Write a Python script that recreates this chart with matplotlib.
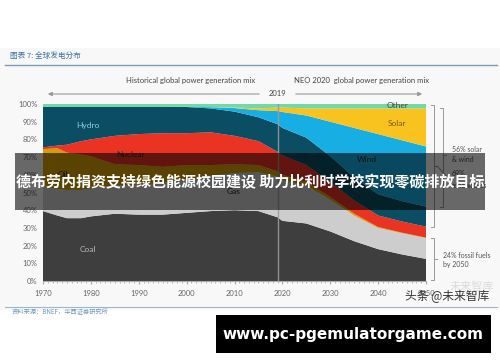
import matplotlib
matplotlib.use("Agg")
import matplotlib.pyplot as plt
from matplotlib.patches import Rectangle, FancyArrowPatch
from matplotlib.lines import Line2D

plt.rcParams['font.family'] = ['Lato', 'Noto Sans CJK SC', 'DejaVu Sans']

# --------------------------------------------------------------
# Data: global power generation mix, % share
# --------------------------------------------------------------
years = [1970, 1973, 1975, 1978, 1980, 1985, 1990, 1995, 2000, 2005,
         2010, 2015, 2019, 2020, 2025, 2030, 2035, 2040, 2045, 2050]
coal = [39.5, 37, 35.5, 35.5, 36.5, 38, 37.5, 37.5, 38.5, 39.5,
        40, 39.5, 36, 34, 32.5, 28, 22.5, 18, 15, 12.5]
gas = [14, 15, 16, 16, 16, 16, 17, 18, 19, 20,
       21, 22, 23, 23, 21.5, 18, 14.5, 12, 12, 11.8]
oil = [21, 23, 21, 20, 18, 12, 11, 9, 8, 6,
       5, 4, 3, 3, 2, 1.5, 1, 0.5, 0.3, 0.2]
nuclear = [1, 1.5, 4.5, 7.5, 9.5, 16, 17.5, 19, 18, 18.5,
           16, 13.5, 11, 11, 9.5, 8.5, 7.5, 6.5, 6.3, 6.2]
hydro = [23, 22, 21.5, 19.5, 18.5, 16.5, 15.5, 15, 14.8, 13.5,
         13.7, 13.5, 15.6, 15.5, 15.5, 14.5, 13, 12, 11.5, 11.3]
wind = [0, 0, 0, 0, 0, 0, 0, 0, 0.1, 0.7,
        2, 4, 7.4, 9, 12.5, 19.5, 28, 34, 34.4, 34]
solar = [0, 0, 0, 0, 0, 0, 0, 0, 0, 0,
         0.3, 1, 2, 2.5, 4, 7.5, 11, 14.5, 18, 21.5]
other = [1.5, 1.5, 1.5, 1.5, 1.5, 1.5, 1.5, 1.5, 1.6, 1.8,
         2, 2.5, 2, 2, 2.5, 2.5, 2.5, 2.5, 2.5, 2.5]

colors = ['#3e3e3e', '#cdcdcd', '#d69e00', '#ea3323',
          '#0b4d63', '#17aee3', '#f9c31f', '#72d9a6']

y_ticks = [0, 10, 20, 30, 40, 50, 60, 70, 80, 90, 100]
x_ticks = [1970, 1980, 1990, 2000, 2010, 2020, 2030, 2040, 2050]

W, H = 500, 362
def fx(px):
    return px / W
def fy(py):
    return 1 - py / H

fig = plt.figure(figsize=(5, 3.62), dpi=100)
fig.patch.set_facecolor('white')
# light page background of the report screenshot
fig.add_artist(Rectangle((0, fy(310)), 1, fy(48) - fy(310), transform=fig.transFigure,
                         facecolor='#f8f8f8', edgecolor='none', zorder=-10))

ax = fig.add_axes([fx(43), fy(281), (426 - 43) / W, (281 - 104) / H])
ax.set_facecolor('none')
ax.stackplot(years, coal, gas, oil, nuclear, hydro, wind, solar, other,
             colors=colors, linewidth=0)
ax.set_xlim(1970, 2050)
ax.set_ylim(0, 100)
ax.set_yticks(y_ticks)
ax.set_yticklabels([f"{v}%" for v in y_ticks])
ax.set_xticks(x_ticks)
ax.set_xticks(range(1970, 2051), minor=True)
for s in ['top', 'right', 'left']:
    ax.spines[s].set_visible(False)
ax.spines['bottom'].set_color('#aaaaaa')
ax.tick_params(axis='y', length=0, labelsize=5.5, labelcolor='#666666', pad=4)
ax.tick_params(axis='x', which='major', length=2.5, color='#aaaaaa',
               labelsize=5.5, labelcolor='#666666', pad=4)
ax.tick_params(axis='x', which='minor', length=1.5, color='#aaaaaa')

# 2019 divider
ax.axvline(2019, color='#9a9a9a', lw=1, alpha=0.9)

# in-chart labels
lab = dict(fontsize=6, ha='center', va='center')
ax.text(1979.4, 88, "Hydro", color='#8fd0e8', **lab)
ax.text(1988.3, 71.6, "Nuclear", color='#2a2a2a', **lab)
ax.text(1974.2, 60.2, "Oil", color='#2a2a2a', **lab)
ax.text(2009.8, 50.6, "Gas", color='#2a2a2a', **lab)
ax.text(1979.4, 17.6, "Coal", color='#b8b8b8', **lab)
ax.text(2037.7, 68.8, "Wind", color='#2a2a2a', **lab)
ax.text(2044, 89, "Solar", color='#7a5a10', **lab)
ax.text(2044, 99.2, "Other", color='#444444', **lab)

# header
fig.text(fx(10), fy(57), "图表 7: 全球发电分布", fontsize=5.5, color='#3a6ea5',
         style='italic', va='center', family=['Noto Sans CJK SC'])
fig.add_artist(Line2D([fx(5), fx(497)], [fy(65), fy(65)], color='#7f9bb5', lw=1))
fig.add_artist(Line2D([fx(5), fx(497)], [fy(307), fy(307)], color='#9fb5c8', lw=0.8))
fig.text(fx(12), fy(312), "资料来源：BNEF，华西证券研究所", fontsize=4.5, color='#6f95c0',
         va='center', family=['Noto Sans CJK SC'])

# sub headings and timeline arrows
fig.text(fx(191), fy(80), "Historical global power generation mix", fontsize=5.5,
         color='#444444', ha='center', va='center')
fig.text(fx(362), fy(80), "NEO 2020  global power generation mix", fontsize=5.5,
         color='#444444', ha='center', va='center')
fig.text(fx(277), fy(94), "2019", fontsize=5.5, color='#444444', ha='center', va='center')
arrow = dict(arrowstyle='-|>', color='#9a9a9a', lw=0.8, mutation_scale=6)
fig.add_artist(FancyArrowPatch((fx(262), fy(94)), (fx(45), fy(94)),
                               transform=fig.transFigure, **arrow))
fig.add_artist(FancyArrowPatch((fx(293), fy(94)), (fx(425), fy(94)),
                               transform=fig.transFigure, **arrow))

# brackets on the right
def bracket(x, y0, y1, ymid, tip):
    c = '#999999'
    fig.add_artist(Line2D([fx(x - 3), fx(x), fx(x), fx(x - 3)],
                          [fy(y0), fy(y0), fy(y1), fy(y1)], color=c, lw=0.7))
    fig.add_artist(Line2D([fx(x), fx(x + tip)], [fy(ymid), fy(ymid)], color=c, lw=0.7))

bracket(434, 105, 227, 166, 3)
fig.add_artist(Line2D([fx(437), fx(448)], [fy(166), fy(178)], color='#999999', lw=0.7))
bracket(443, 108, 207, 155, 3)
bracket(434, 238, 280, 259, 3)
note = dict(fontsize=5, color='#555555', va='center')
fig.text(fx(452), fy(149), "56% solar", **note)
fig.text(fx(452), fy(159), "& wind", **note)
fig.text(fx(452), fy(173), "69%", **note)
fig.text(fx(452), fy(185), "renewables", **note)
fig.text(fx(443), fy(255), "24% fossil fuels", **note)
fig.text(fx(443), fy(264), "by 2050", **note)

# watermark
fig.text(fx(472), fy(287), "未来智库", fontsize=8, color='#999999', alpha=0.3,
         ha='center', va='center', family=['Noto Sans CJK SC'])
fig.text(fx(447), fy(297), "头条 @未来智库", fontsize=8.5, color='#333333',
         ha='center', va='center', family=['Noto Sans CJK SC'])

# overlay title banner
fig.add_artist(Rectangle((fx(15), fy(210)), fx(485) - fx(15), fy(153) - fy(210),
                         transform=fig.transFigure, facecolor='black', alpha=0.58,
                         edgecolor='none', zorder=5))
fig.text(fx(250), fy(182), "德布劳内捐资支持绿色能源校园建设 助力比利时学校实现零碳排放目标",
         fontsize=10.8, fontweight='bold', color='white', ha='center', va='center',
         family=['Noto Sans CJK SC'], zorder=6)

# url banner
fig.add_artist(Rectangle((fx(216), fy(353)), fx(491) - fx(216), fy(315) - fy(353),
                         transform=fig.transFigure, facecolor='black',
                         edgecolor='none', zorder=5))
fig.text(fx(353), fy(334), "www.pc-pgemulatorgame.com", fontsize=11, fontweight='bold',
         color='white', ha='center', va='center', family=['DejaVu Sans'], zorder=6)

fig.savefig("out.png", dpi=100)
